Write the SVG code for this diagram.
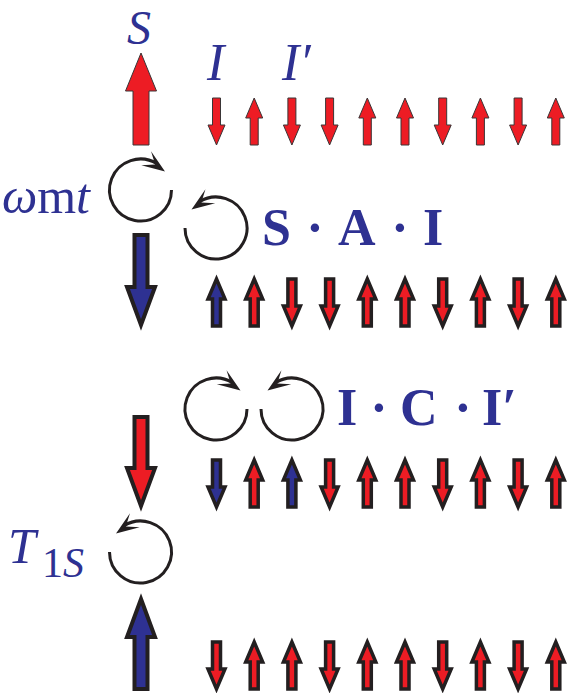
<svg xmlns="http://www.w3.org/2000/svg" xmlns:xlink="http://www.w3.org/1999/xlink" width="571" height="693" viewBox="0 0 571 693">
<style>
  .lbl { font-family: "Liberation Serif", "Times New Roman", serif; fill: #2e3192; }
  .it { font-style: italic; }
  .bd { font-weight: bold; }
  .red { fill: #ed1c24; }
  .blue { fill: #2e3192; }
  .thin { stroke: #3a3536; stroke-width: 1; stroke-linejoin: miter; }
  .thick { stroke: #231f20; stroke-width: 3.5; stroke-linejoin: miter; stroke-miterlimit: 10; }
  .bigthick { stroke: #231f20; stroke-width: 4; stroke-linejoin: miter; stroke-miterlimit: 10; }
  .loop { fill: none; stroke: #231f20; stroke-width: 3; }
  .head { fill: #231f20; }
</style>
<defs>
  <path id="sd" d="M-4,0 H4 V27 H8.5 L0,47 L-8.5,27 H-4 Z"/>
  <path id="su" d="M0,0 L8.5,20 H4 V47 H-4 V20 H-8.5 Z"/>
  <path id="ah" d="M0,0 L-23,-8.5 L-12,0 L-23,8.5 Z"/>
</defs>

<!-- big spin arrows -->
<g id="S-arrow">
  <path class="red thin" d="M141,53 L156.5,91 H149 V145 H133 V91 H125.5 Z"/>
  <text class="lbl it" x="139" y="44" font-size="48" text-anchor="middle">S</text>
</g>
<g id="S-arrow-down">
  <path class="blue bigthick" d="M134.5,235 H147.5 V287 H155 L141,325 L127,287 H134.5 Z"/>
</g>
<g id="red-down">
  <path class="red bigthick" d="M134.5,417 H147.5 V468 H155 L141,506 L127,468 H134.5 Z"/>
</g>
<g id="blue-up">
  <path class="blue bigthick" d="M141,599 L155,637 H147.5 V689 H134.5 V637 H127 Z"/>
</g>

<!-- labels -->
<g id="wmt-label">
  <text class="lbl" x="90" y="213" font-size="50" text-anchor="end"><tspan class="it">ω</tspan>m<tspan class="it">t</tspan></text>
</g>
<g id="T1S-label">
  <text class="lbl" x="8" y="563" font-size="50"><tspan class="it">T</tspan><tspan font-size="42" y="577" x="42">1</tspan><tspan class="it" font-size="42" y="577">S</tspan></text>
</g>
<g id="I-labels">
  <text class="lbl it" x="207" y="80" font-size="52">I</text>
  <text class="lbl it" x="282" y="80" font-size="52">I′</text>
</g>
<g id="SAI-label">
  <text class="lbl bd" x="262" y="245" font-size="52">S</text>
  <text class="lbl bd" x="315" y="245" font-size="52" text-anchor="middle">·</text>
  <text class="lbl bd" x="338" y="245" font-size="52">A</text>
  <text class="lbl bd" x="400" y="245" font-size="52" text-anchor="middle">·</text>
  <text class="lbl bd" x="423" y="245" font-size="52">I</text>
</g>
<g id="ICI-label">
  <text class="lbl bd" x="337" y="425" font-size="52">I</text>
  <text class="lbl bd" x="379" y="425" font-size="52" text-anchor="middle">·</text>
  <text class="lbl bd" x="400" y="425" font-size="52">C</text>
  <text class="lbl bd" x="463" y="425" font-size="52" text-anchor="middle">·</text>
  <text class="lbl bd" x="482" y="425" font-size="52">I′</text>
</g>

<!-- rotation loops -->
<g id="loops">
  <g id="loop-wmt">
    <path class="loop" d="M171.5,190 A31,31 0 1 1 156.9,163.7"/>
    <use xlink:href="#ah" class="head" transform="translate(165,171.5) rotate(35)"/>
  </g>
  <g id="loop-SAI">
    <path class="loop" d="M185,228 A31,31 0 1 0 199.6,201.7"/>
    <use xlink:href="#ah" class="head" transform="translate(191.5,209.5) rotate(145)"/>
  </g>
  <g id="loop-I">
    <path class="loop" d="M247,409 A31,31 0 1 1 232.4,382.7"/>
    <use xlink:href="#ah" class="head" transform="translate(240.5,390.5) rotate(35)"/>
  </g>
  <g id="loop-Ip">
    <path class="loop" d="M261,409 A31,31 0 1 0 275.6,382.7"/>
    <use xlink:href="#ah" class="head" transform="translate(267.5,390.5) rotate(145)"/>
  </g>
  <g id="loop-T1S">
    <path class="loop" d="M109.5,552 A31,31 0 1 0 124.1,525.7"/>
    <use xlink:href="#ah" class="head" transform="translate(116,533.5) rotate(145)"/>
  </g>
</g>

<!-- row 1: thin outline -->
<g id="row1" class="red thin">
  <use xlink:href="#sd" x="216.5" y="98"/>
  <use xlink:href="#su" x="254.2" y="98"/>
  <use xlink:href="#sd" x="291.9" y="98"/>
  <use xlink:href="#sd" x="329.6" y="98"/>
  <use xlink:href="#su" x="367.3" y="98"/>
  <use xlink:href="#su" x="405" y="98"/>
  <use xlink:href="#sd" x="442.7" y="98"/>
  <use xlink:href="#su" x="480.4" y="98"/>
  <use xlink:href="#sd" x="518.1" y="98"/>
  <use xlink:href="#su" x="555.8" y="98"/>
</g>
<!-- row 2 -->
<g id="row2" class="red thick">
  <use xlink:href="#su" x="216.5" y="279" class="blue"/>
  <use xlink:href="#su" x="254.2" y="279"/>
  <use xlink:href="#sd" x="291.9" y="279"/>
  <use xlink:href="#sd" x="329.6" y="279"/>
  <use xlink:href="#su" x="367.3" y="279"/>
  <use xlink:href="#su" x="405" y="279"/>
  <use xlink:href="#sd" x="442.7" y="279"/>
  <use xlink:href="#su" x="480.4" y="279"/>
  <use xlink:href="#sd" x="518.1" y="279"/>
  <use xlink:href="#su" x="555.8" y="279"/>
</g>
<!-- row 3 -->
<g id="row3" class="red thick">
  <use xlink:href="#sd" x="216.5" y="460" class="blue"/>
  <use xlink:href="#su" x="254.2" y="460"/>
  <use xlink:href="#su" x="291.9" y="460" class="blue"/>
  <use xlink:href="#sd" x="329.6" y="460"/>
  <use xlink:href="#su" x="367.3" y="460"/>
  <use xlink:href="#su" x="405" y="460"/>
  <use xlink:href="#sd" x="442.7" y="460"/>
  <use xlink:href="#su" x="480.4" y="460"/>
  <use xlink:href="#sd" x="518.1" y="460"/>
  <use xlink:href="#su" x="555.8" y="460"/>
</g>
<!-- row 4 -->
<g id="row4" class="red thick">
  <use xlink:href="#sd" x="216.5" y="642"/>
  <use xlink:href="#su" x="254.2" y="642"/>
  <use xlink:href="#su" x="291.9" y="642"/>
  <use xlink:href="#sd" x="329.6" y="642"/>
  <use xlink:href="#su" x="367.3" y="642"/>
  <use xlink:href="#su" x="405" y="642"/>
  <use xlink:href="#sd" x="442.7" y="642"/>
  <use xlink:href="#su" x="480.4" y="642"/>
  <use xlink:href="#sd" x="518.1" y="642"/>
  <use xlink:href="#su" x="555.8" y="642"/>
</g>
</svg>
